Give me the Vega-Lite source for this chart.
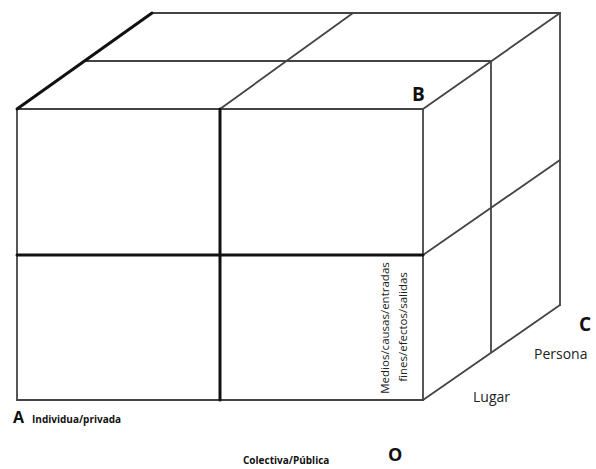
{
  "$schema": "https://vega.github.io/schema/vega-lite/v6.json",
  "width": 596,
  "height": 469,
  "padding": 0,
  "autosize": {"type": "none"},
  "background": "white",
  "config": {"view": {"stroke": null}},
  "datasets": {
    "edges": [
      {"x": 152, "y": 13, "x2": 560, "y2": 13, "w": "thin"},
      {"x": 85, "y": 61, "x2": 491, "y2": 61, "w": "thin"},
      {"x": 220, "y": 109, "x2": 353, "y2": 13, "w": "thin"},
      {"x": 423, "y": 109, "x2": 560, "y2": 13, "w": "thin"},
      {"x": 17, "y": 109, "x2": 423, "y2": 109, "w": "thin"},
      {"x": 17, "y": 109, "x2": 17, "y2": 400, "w": "thin"},
      {"x": 423, "y": 109, "x2": 423, "y2": 400, "w": "thin"},
      {"x": 17, "y": 400, "x2": 423, "y2": 400, "w": "thin"},
      {"x": 491, "y": 61, "x2": 491, "y2": 352, "w": "thin"},
      {"x": 560, "y": 13, "x2": 560, "y2": 305, "w": "thin"},
      {"x": 423, "y": 255, "x2": 560, "y2": 160, "w": "thin"},
      {"x": 423, "y": 400, "x2": 560, "y2": 305, "w": "thin"},
      {"x": 17, "y": 109, "x2": 152, "y2": 13, "w": "thick"},
      {"x": 220, "y": 109, "x2": 220, "y2": 400, "w": "thick"},
      {"x": 17, "y": 255, "x2": 423, "y2": 255, "w": "thick"}
    ],
    "bold": [
      {"x": 412, "y": 95, "label": "B", "size": 19},
      {"x": 579, "y": 325, "label": "C", "size": 19},
      {"x": 13, "y": 418, "label": "A", "size": 16},
      {"x": 32, "y": 420, "label": "Individua/privada", "size": 10},
      {"x": 243, "y": 461, "label": "Colectiva/Pública", "size": 10},
      {"x": 388, "y": 456, "label": "O", "size": 18}
    ],
    "plain": [
      {"x": 534, "y": 355, "label": "Persona", "size": 14},
      {"x": 473, "y": 398, "label": "Lugar", "size": 14}
    ],
    "vertical": [
      {"x": 386, "y": 328, "label": "Medios/causas/entradas", "size": 11.5},
      {"x": 404, "y": 327, "label": "fines/efectos/salidas", "size": 11.5}
    ]
  },
  "layer": [
    {
      "data": {"name": "edges"},
      "mark": {"type": "rule", "strokeCap": "round"},
      "encoding": {
        "x": {"field": "x", "type": "quantitative", "scale": {"domain": [0, 596], "nice": false, "zero": false}, "axis": null},
        "y": {"field": "y", "type": "quantitative", "scale": {"domain": [0, 469], "nice": false, "zero": false, "reverse": true}, "axis": null},
        "x2": {"field": "x2"},
        "y2": {"field": "y2"},
        "strokeWidth": {"field": "w", "type": "nominal", "scale": {"domain": ["thin", "thick"], "range": [1.8, 3]}, "legend": null},
        "color": {"field": "w", "type": "nominal", "scale": {"domain": ["thin", "thick"], "range": ["#444444", "#111111"]}, "legend": null}
      }
    },
    {
      "data": {"name": "bold"},
      "mark": {"type": "text", "font": "Open Sans", "fontWeight": "bold", "align": "left", "baseline": "middle", "color": "#111111"},
      "encoding": {
        "x": {"field": "x", "type": "quantitative"},
        "y": {"field": "y", "type": "quantitative"},
        "text": {"field": "label"},
        "size": {"field": "size", "type": "quantitative", "scale": null}
      }
    },
    {
      "data": {"name": "plain"},
      "mark": {"type": "text", "font": "Open Sans", "align": "left", "baseline": "middle", "color": "#222222"},
      "encoding": {
        "x": {"field": "x", "type": "quantitative"},
        "y": {"field": "y", "type": "quantitative"},
        "text": {"field": "label"},
        "size": {"field": "size", "type": "quantitative", "scale": null}
      }
    },
    {
      "data": {"name": "vertical"},
      "mark": {"type": "text", "font": "Open Sans", "align": "center", "baseline": "middle", "angle": 270, "color": "#222222"},
      "encoding": {
        "x": {"field": "x", "type": "quantitative"},
        "y": {"field": "y", "type": "quantitative"},
        "text": {"field": "label"},
        "size": {"field": "size", "type": "quantitative", "scale": null}
      }
    }
  ]
}
